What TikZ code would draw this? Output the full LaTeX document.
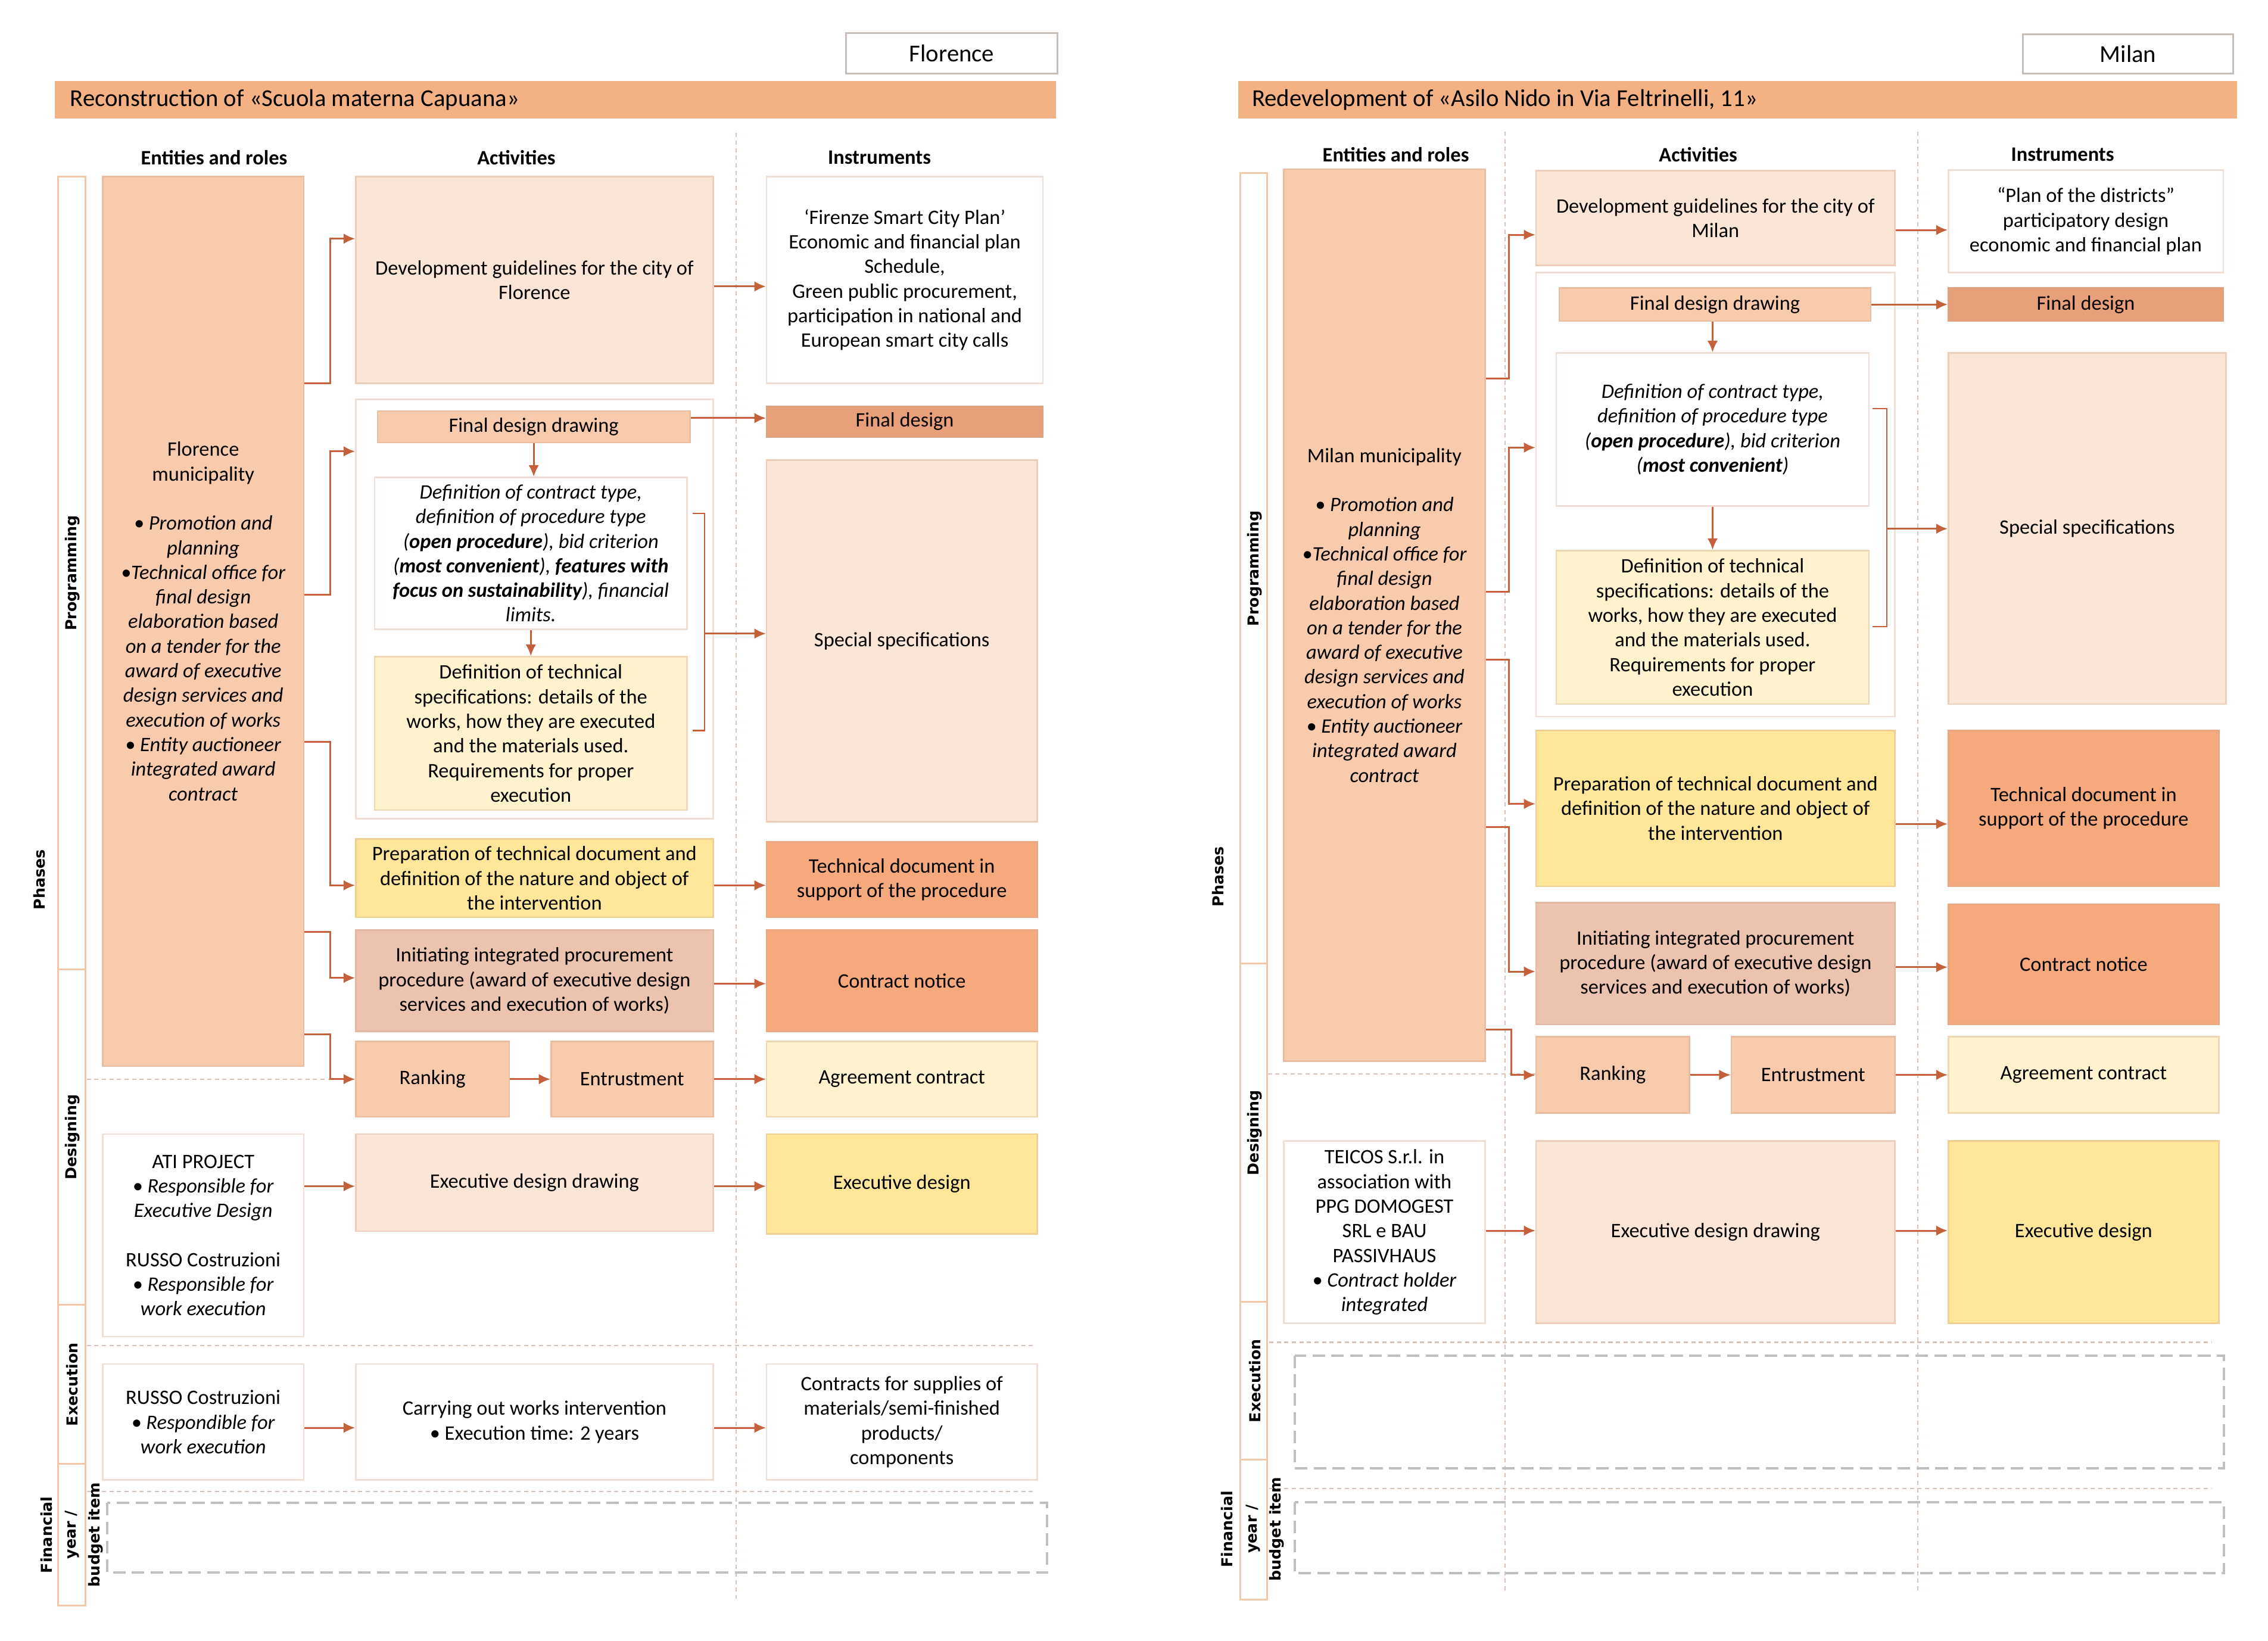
\documentclass[tikz,border=0pt]{standalone}
\usepackage{fontspec}
\setmainfont{Carlito}
\newfontfamily\phasefont{DejaVu Sans}
\usetikzlibrary{arrows.meta}

\definecolor{peach}{HTML}{F8CBAD}
\definecolor{pale}{HTML}{FBE5D6}
\definecolor{cream}{HTML}{FFF2CC}
\definecolor{butter}{HTML}{FFE699}
\definecolor{clay}{HTML}{EBC3AE}
\definecolor{apricot}{HTML}{F6A97D}
\definecolor{terra}{HTML}{E7A07A}
\definecolor{titlec}{HTML}{F4B183}
\definecolor{arrowc}{HTML}{C5603A}
\definecolor{edgec}{HTML}{D4A488}
\definecolor{stripc}{HTML}{F4C7AB}
\definecolor{cityc}{HTML}{C8BEB8}
\definecolor{dashc}{HTML}{D9C3B7}
\definecolor{grayc}{HTML}{BFBFBF}

\newcommand{\boxfont}{\fontsize{9.8}{11.75}\selectfont}
\newcommand{\barfont}{\fontsize{11.6}{14}\selectfont}
\newcommand{\phasetext}{\phasefont\bfseries\fontsize{7.2}{11.4}\selectfont}

\begin{document}
\begin{tikzpicture}[x=0.24286mm, y=-0.24286mm,
    spanbox/.style n args={4}{minimum width={(#3-#1)*0.24286mm}, minimum height={(#4-#2)*0.24286mm}, at={({(#1+#3)/2},{(#2+#4)/2})}},
    cell/.style={rectangle, inner sep=0pt, align=center, font=\boxfont, fill=#1, draw=#1!65!edgec, line width=0.7pt},
    cell/.default=white,
    colhead/.style={font=\boxfont\bfseries, inner sep=1pt},
    phaselbl/.style={font=\phasetext, rotate=90, align=center, inner sep=1pt},
    strip/.style={draw=stripc, fill=white, line width=0.8pt},
    citybox/.style={rectangle, inner sep=0pt, draw=cityc, fill=white, line width=0.9pt, font=\barfont},
    titlebar/.style={rectangle, inner sep=0pt, fill=titlec, font=\barfont, text width=163mm, align=flush left},
    flow/.style={draw=arrowc, line width=0.85pt, -{Latex[length=5.5pt,width=5pt]}},
    brk/.style={draw=arrowc, line width=0.6pt},
    divline/.style={draw=dashc, line width=0.6pt, dash pattern=on 2pt off 1.6pt},
    emptyrow/.style={draw=grayc, line width=1.1pt, dash pattern=on 6pt off 3pt}]
    \useasboundingbox (0,0) rectangle (1568,1134.4);

    % Florence
    \draw[divline] (509,92) -- (509,1105);
    \draw[strip] (40,122) rectangle (59,670);
    \draw[strip] (40,670) rectangle (59,902);
    \draw[strip] (40,902) rectangle (59,1012);
    \draw[strip] (40,1012) rectangle (59,1110);
    \draw[divline] (60,746) -- (245,746);
    \draw[divline] (60,930) -- (715,930);
    \draw[divline] (60,1031) -- (715,1031);
    \draw[emptyrow] (74,1039) rectangle (724,1087);

    \node[citybox, spanbox={585}{23}{731}{51}] (cityF) {Florence};
    \node[titlebar, spanbox={38}{56}{730}{82}] (titleF) {Reconstruction of «Scuola materna Capuana»};
    \node[colhead] (hentF) at (148,109) {Entities and roles};
    \node[colhead] (hactF) at (357,109) {Activities};
    \node[colhead] (hinsF) at (608,109) {Instruments};
    \node[phaselbl] (progF) at (50,396) {Programming};
    \node[phaselbl] (desF) at (50,786) {Designing};
    \node[phaselbl] (exeF) at (50,957) {Execution};
    \node[phaselbl] (finF) at (49.6,1061) {Financial\\year /\\budget item};
    \node[phaselbl] (phF) at (27,608) {Phases};

    \node[cell=peach, spanbox={71}{122}{210}{737}] (muniF) {Florence\\municipality\\[11.75pt]\textit{• Promotion and}\\\textit{planning}\\\textit{•Technical office for}\\\textit{final design}\\\textit{elaboration based}\\\textit{on a tender for the}\\\textit{award of executive}\\\textit{design services and}\\\textit{execution of works}\\\textit{• Entity auctioneer}\\\textit{integrated award}\\\textit{contract}};
    \node[cell=pale, spanbox={246}{122}{493}{265}] (devF) {Development guidelines for the city of\\Florence};
    \node[cell, spanbox={530}{122}{721}{265}] (firF) {‘Firenze Smart City Plan’\\Economic and financial plan\\Schedule,\\Green public procurement,\\participation in national and\\European smart city calls};
    \node[cell, spanbox={246}{276}{493}{566}] (grpF) {};
    \node[cell=peach, spanbox={261}{284}{477}{306}] (fddF) {Final design drawing};
    \node[cell=terra, spanbox={530}{281}{721}{302}] (fdF) {Final design};
    \node[cell, font=\boxfont\itshape, spanbox={259}{330}{475}{435}] (defcF) {Definition of contract type,\\definition of procedure type\\(\textbf{open procedure}), bid criterion\\(\textbf{most convenient}), \textbf{features with}\\\textbf{focus on sustainability}), financial\\limits.};
    \node[cell=cream, spanbox={259}{454}{475}{560}] (deftF) {Definition of technical\\specifications: details of the\\works, how they are executed\\and the materials used.\\Requirements for proper\\execution};
    \node[cell=pale, spanbox={530}{318}{717}{568}] (specF) {Special specifications};
    \node[cell=butter, spanbox={246}{580}{493}{634}] (prepF) {Preparation of technical document and\\definition of the nature and object of\\the intervention};
    \node[cell=apricot, spanbox={530}{582}{717}{634}] (techF) {Technical document in\\support of the procedure};
    \node[cell=clay, spanbox={246}{643}{493}{713}] (initF) {Initiating integrated procurement\\procedure (award of executive design\\services and execution of works)};
    \node[cell=apricot, spanbox={530}{643}{717}{713}] (noticeF) {Contract notice};
    \node[cell=peach, spanbox={246}{720}{352}{772}] (rankF) {Ranking};
    \node[cell=peach, spanbox={381}{720}{493}{772}] (entrF) {Entrustment};
    \node[cell=cream, spanbox={530}{720}{717}{772}] (agrF) {Agreement contract};
    \node[cell, spanbox={71}{784}{210}{924}] (atiF) {ATI PROJECT\\\textit{• Responsible for}\\\textit{Executive Design}\\[11.75pt]RUSSO Costruzioni\\\textit{• Responsible for}\\\textit{work execution}};
    \node[cell=pale, spanbox={246}{784}{493}{851}] (edrF) {Executive design drawing};
    \node[cell=butter, spanbox={530}{784}{717}{853}] (edF) {Executive design};
    \node[cell, spanbox={71}{943}{210}{1023}] (russoF) {RUSSO Costruzioni\\\textit{• Respondible for}\\\textit{work execution}};
    \node[cell, spanbox={246}{943}{493}{1023}] (workF) {Carrying out works intervention\\• Execution time: 2 years};
    \node[cell, spanbox={530}{943}{717}{1023}] (suppF) {Contracts for supplies of\\materials/semi-finished\\products/\\components};

    % Milan
    \draw[divline] (1040.4,91) -- (1040.4,1101.5);
    \draw[divline] (1326,91) -- (1326,1101.5);
    \draw[strip] (857.5,119.7) rectangle (876,666);
    \draw[strip] (857.5,666) rectangle (876,900);
    \draw[strip] (857.5,900) rectangle (876,1009);
    \draw[strip] (857.5,1009) rectangle (876,1105.7);
    \draw[divline] (876.5,742.4) -- (1062,742.4);
    \draw[divline] (877.5,927.9) -- (1529,927.9);
    \draw[divline] (877.5,1029) -- (1529,1029);
    \draw[emptyrow] (895,937.1) rectangle (1537.4,1015.1);
    \draw[emptyrow] (895,1038.3) rectangle (1537.4,1087.6);

    \node[citybox, spanbox={1398.6}{23.6}{1543.9}{51}] (cityM) {Milan};
    \node[titlebar, spanbox={856}{55.8}{1546.4}{81.9}] (titleM) {Redevelopment of «Asilo Nido in Via Feltrinelli, 11»};
    \node[colhead] (hentM) at (965,107) {Entities and roles};
    \node[colhead] (hactM) at (1174,107) {Activities};
    \node[colhead] (hinsM) at (1426,107) {Instruments};
    \node[phaselbl] (progM) at (867.5,393) {Programming};
    \node[phaselbl] (desM) at (867.5,783) {Designing};
    \node[phaselbl] (exeM) at (867.5,954.5) {Execution};
    \node[phaselbl] (finM) at (866,1057) {Financial\\year /\\budget item};
    \node[phaselbl] (phM) at (842,606) {Phases};

    \node[cell=peach, spanbox={887.5}{117}{1026.8}{733.6}] (muniM) {Milan municipality\\[11.75pt]\textit{• Promotion and}\\\textit{planning}\\\textit{•Technical office for}\\\textit{final design}\\\textit{elaboration based}\\\textit{on a tender for the}\\\textit{award of executive}\\\textit{design services and}\\\textit{execution of works}\\\textit{• Entity auctioneer}\\\textit{integrated award}\\\textit{contract}};
    \node[cell=pale, spanbox={1062}{118}{1310}{183.4}] (devM) {Development guidelines for the city of\\Milan};
    \node[cell, spanbox={1347}{117.5}{1537}{188.4}] (planM) {“Plan of the districts”\\participatory design\\economic and financial plan};
    \node[cell, spanbox={1062}{188.4}{1310}{495.4}] (grpM) {};
    \node[cell=peach, spanbox={1078}{199}{1293.4}{222}] (fddM) {Final design drawing};
    \node[cell=terra, spanbox={1347}{199}{1537}{222}] (fdM) {Final design};
    \node[cell, font=\boxfont\itshape, spanbox={1076}{244}{1292}{349.8}] (defcM) {Definition of contract type,\\definition of procedure type\\(\textbf{open procedure}), bid criterion\\(\textbf{most convenient})};
    \node[cell=cream, spanbox={1076}{380.6}{1292}{486.8}] (deftM) {Definition of technical\\specifications: details of the\\works, how they are executed\\and the materials used.\\Requirements for proper\\execution};
    \node[cell=pale, spanbox={1347}{244}{1539}{486.8}] (specM) {Special specifications};
    \node[cell=butter, spanbox={1062}{505}{1310}{612.6}] (prepM) {Preparation of technical document and\\definition of the nature and object of\\the intervention};
    \node[cell=apricot, spanbox={1347}{505}{1534}{612.6}] (techM) {Technical document in\\support of the procedure};
    \node[cell=clay, spanbox={1062}{624}{1310}{708.3}] (initM) {Initiating integrated procurement\\procedure (award of executive design\\services and execution of works)};
    \node[cell=apricot, spanbox={1347}{625}{1534}{708.3}] (noticeM) {Contract notice};
    \node[cell=peach, spanbox={1062}{716.7}{1168}{769.4}] (rankM) {Ranking};
    \node[cell=peach, spanbox={1197}{716.7}{1310}{769.4}] (entrM) {Entrustment};
    \node[cell=cream, spanbox={1347}{716.7}{1534}{769.4}] (agrM) {Agreement contract};
    \node[cell, spanbox={887.5}{788.8}{1026.8}{914.8}] (teicM) {TEICOS S.r.l. in\\association with\\PPG DOMOGEST\\SRL e BAU\\PASSIVHAUS\\\textit{• Contract holder}\\\textit{integrated}};
    \node[cell=pale, spanbox={1062}{788.8}{1310}{914.8}] (edrM) {Executive design drawing};
    \node[cell=butter, spanbox={1347}{788.8}{1534}{914.8}] (edM) {Executive design};

    % 矢印を引く
    \draw[flow] (muniF.east |- 0,265) -- ++(18,0) |- (devF.west |- 0,165);
    \draw[flow] (muniF.east |- 0,411) -- ++(18,0) |- (grpF.west |- 0,312);
    \draw[flow] (muniF.east |- 0,513) -- ++(18,0) |- (prepF.west |- 0,612);
    \draw[flow] (muniF.east |- 0,644) -- ++(18,0) |- (initF.west |- 0,676);
    \draw[flow] (muniF.east |- 0,715) -- ++(18,0) |- (rankF.west |- 0,746);
    \draw[flow] (devF.east |- 0,198) -- (firF.west |- 0,198);
    \draw[flow] (fddF.east |- 0,289) -- (fdF.west |- 0,289);
    \draw[flow] (fddF.south) -- (fddF.south |- defcF.north);
    \draw[flow] (defcF.south) -- (deftF.north);
    \coordinate (brF) at (487,438);
    \draw[brk] (479,355) -| (brF) |- (479,505);
    \draw[flow] (brF) -- (specF.west |- brF);
    \draw[flow] (prepF.east |- 0,612) -- (techF.west |- 0,612);
    \draw[flow] (initF.east |- 0,680) -- (noticeF.west |- 0,680);
    \draw[flow] (rankF) -- (entrF);
    \draw[flow] (entrF) -- (agrF);
    \draw[flow] (atiF.east |- 0,820) -- (edrF.west |- 0,820);
    \draw[flow] (edrF.east |- 0,820) -- (edF.west |- 0,820);
    \draw[flow] (russoF.east |- 0,987) -- (workF.west |- 0,987);
    \draw[flow] (workF.east |- 0,987) -- (suppF.west |- 0,987);

    \draw[flow] (muniM.east |- 0,261.5) -- ++(16,0) |- (devM.west |- 0,162.3);
    \draw[flow] (muniM.east |- 0,409) -- ++(16,0) |- (grpM.west |- 0,309.4);
    \draw[flow] (muniM.east |- 0,456) -- ++(16,0) |- (prepM.west |- 0,555.7);
    \draw[flow] (muniM.east |- 0,571.7) -- ++(16,0) |- (initM.west |- 0,671.6);
    \draw[flow] (muniM.east |- 0,711.6) -- ++(17.6,0) |- (rankM.west |- 0,743.2);
    \draw[flow] (devM.east |- 0,159) -- (planM.west |- 0,159);
    \draw[flow] (fddM.east |- 0,210.5) -- (fdM.west |- 0,210.5);
    \draw[flow] (defcM.north |- fddM.south) -- (defcM.north);
    \draw[flow] (defcM.south) -- (deftM.north);
    \coordinate (brM) at (1304.4,365.5);
    \draw[brk] (1294.4,282.6) -| (brM) |- (1294.4,433);
    \draw[flow] (brM) -- (specM.west |- brM);
    \draw[flow] (prepM.east |- 0,569.6) -- (techM.west |- 0,569.6);
    \draw[flow] (initM.east |- 0,668.6) -- (noticeM.west |- 0,668.6);
    \draw[flow] (rankM) -- (entrM);
    \draw[flow] (entrM) -- (agrM);
    \draw[flow] (teicM.east |- 0,850.7) -- (edrM.west |- 0,850.7);
    \draw[flow] (edrM.east |- 0,850.7) -- (edM.west |- 0,850.7);
\end{tikzpicture}
\end{document}
